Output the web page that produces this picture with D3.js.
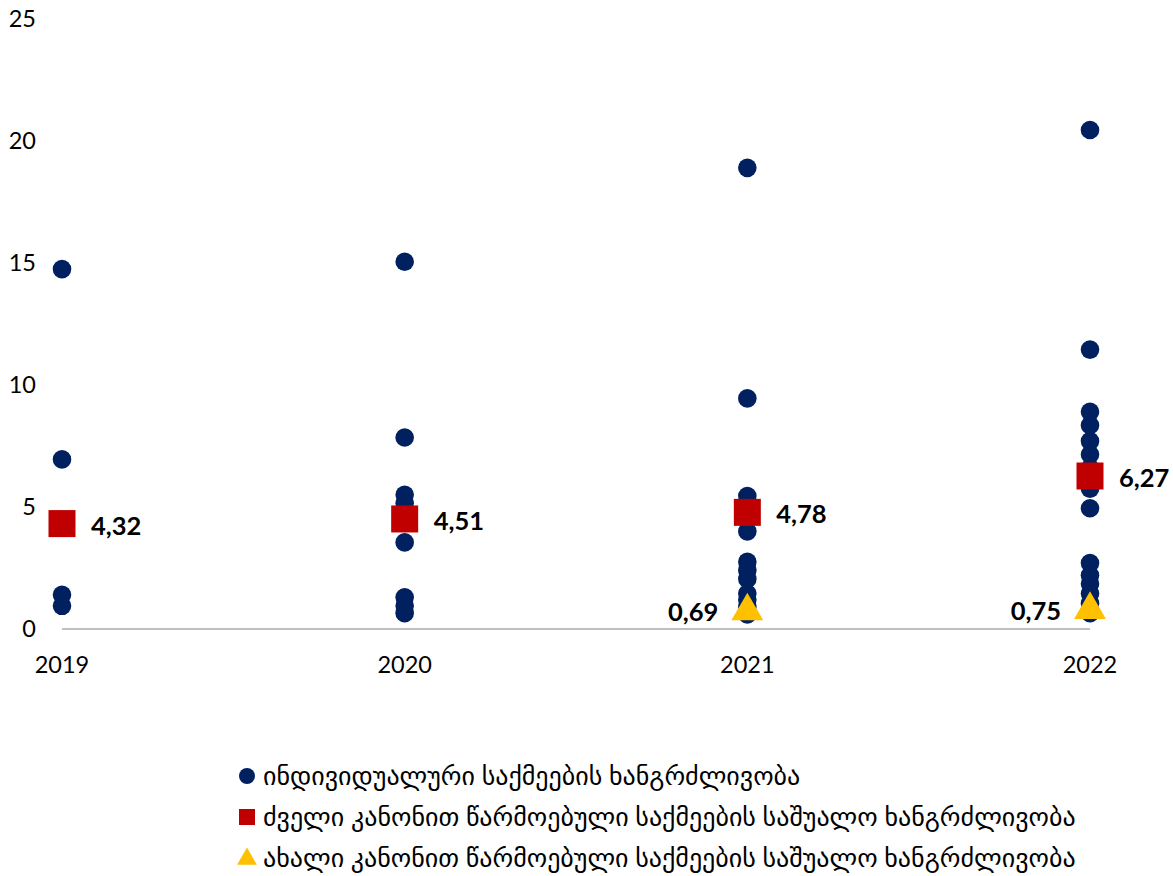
<!DOCTYPE html>
<html>
<head>
    <meta charset="utf-8">
    <script src="https://d3js.org/d3.v7.min.js"></script>
    <style>
        body { margin: 0; background: #fff; }
        text { font-family: Lato, "DejaVu Sans", sans-serif; }
    </style>
</head>
<body>
<svg id="chart" width="1173" height="876"></svg>
<script>
    // values
    const years = ["2019", "2020", "2021", "2022"];
    const individual2019 = [14.75, 6.95, 1.4, 0.95];
    const individual2020 = [15.05, 7.85, 5.5, 5.15, 3.55, 1.3, 0.95, 0.65];
    const individual2021 = [18.9, 9.45, 5.45, 5.2, 4.0, 2.75, 2.4, 2.05, 1.45, 1.2, 0.9, 0.6];
    const individual2022 = [20.45, 11.45, 8.9, 8.35, 7.7, 7.15, 6.6, 5.75, 4.95, 2.7, 2.2, 1.85, 1.45, 1.05, 0.65];
    const oldLawAvg = [4.32, 4.51, 4.78, 6.27];
    const newLawAvg = [null, null, 0.69, 0.75];
    const yTicks = [0, 5, 10, 15, 20, 25];
    const legendLabels = [
        "ინდივიდუალური საქმეების ხანგრძლივობა",
        "ძველი კანონით წარმოებული საქმეების საშუალო ხანგრძლივობა",
        "ახალი კანონით წარმოებული საქმეების საშუალო ხანგრძლივობა"
    ];

    const navy = "#002060", red = "#C00000", yellow = "#FFC000";

    const svg = d3.select("#chart");

    const x = d3.scalePoint().domain(years).range([62, 1090]).padding(0);
    const y = d3.scaleLinear().domain([0, 25]).range([629, 19]);

    // y tick labels (no axis line)
    svg.selectAll(".ytick")
        .data(yTicks)
        .join("text")
        .attr("x", 36)
        .attr("y", d => y(d))
        .attr("dy", "0.35em")
        .attr("text-anchor", "end")
        .attr("font-size", 23.5)
        .attr("fill", "#000")
        .text(d => d);

    // x axis line
    svg.append("line")
        .attr("x1", x(years[0])).attr("x2", x(years[3]))
        .attr("y1", y(0)).attr("y2", y(0))
        .attr("stroke", "#BFBFBF").attr("stroke-width", 2);

    svg.selectAll(".xtick")
        .data(years)
        .join("text")
        .attr("x", d => x(d))
        .attr("y", 665)
        .attr("dy", "0.35em")
        .attr("text-anchor", "middle")
        .attr("font-size", 23.5)
        .attr("fill", "#000")
        .text(d => d);

    // individual points
    const individual = [individual2019, individual2020, individual2021, individual2022];
    let pts = [];
    individual.forEach((vals, i) => vals.forEach(v => pts.push({ year: years[i], v: v })));

    svg.selectAll(".dot")
        .data(pts)
        .join("circle")
        .attr("cx", d => x(d.year))
        .attr("cy", d => y(d.v))
        .attr("r", 9.3)
        .attr("fill", navy);

    // old law averages
    const sq = 27;
    const oldPts = oldLawAvg.map((v, i) => ({ year: years[i], v: v }));
    svg.selectAll(".sq")
        .data(oldPts)
        .join("rect")
        .attr("x", d => x(d.year) - sq / 2)
        .attr("y", d => y(d.v) - sq / 2)
        .attr("width", sq).attr("height", sq)
        .attr("fill", red);

    const fmt = v => d3.format(".2f")(v).replace(".", ",");

    svg.selectAll(".sqlabel")
        .data(oldPts)
        .join("text")
        .attr("x", d => x(d.year) + 29)
        .attr("y", d => y(d.v) + 2)
        .attr("dy", "0.35em")
        .attr("font-size", 25.5)
        .attr("font-weight", "bold")
        .attr("fill", "#000")
        .text(d => fmt(d.v));

    // new law averages
    const newPts = newLawAvg.map((v, i) => ({ year: years[i], v: v })).filter(d => d.v !== null);
    const tri = d3.symbol().type(d3.symbolTriangle).size(440);
    svg.selectAll(".tri")
        .data(newPts)
        .join("path")
        .attr("d", tri)
        .attr("transform", d => `translate(${x(d.year)},${y(d.v) - 1})`)
        .attr("fill", yellow);

    svg.selectAll(".trilabel")
        .data(newPts)
        .join("text")
        .attr("x", d => x(d.year) - 29)
        .attr("y", d => y(d.v))
        .attr("dy", "0.35em")
        .attr("text-anchor", "end")
        .attr("font-size", 25.5)
        .attr("font-weight", "bold")
        .attr("fill", "#000")
        .text(d => fmt(d.v));

    // legend
    const legend = svg.append("g");
    const rowY = [776, 817, 858];
    legend.append("circle").attr("cx", 247).attr("cy", rowY[0]).attr("r", 8).attr("fill", navy);
    legend.append("rect").attr("x", 239).attr("y", rowY[1] - 8).attr("width", 16).attr("height", 16).attr("fill", red);
    legend.append("path")
        .attr("d", d3.symbol().type(d3.symbolTriangle).size(170))
        .attr("transform", `translate(247,${rowY[2] + 1})`)
        .attr("fill", yellow);

    legend.selectAll(".leg")
        .data(legendLabels)
        .join("text")
        .attr("x", 263)
        .attr("y", (d, i) => rowY[i])
        .attr("dy", "0.35em")
        .attr("font-size", 26)
        .attr("fill", "#000")
        .text(d => d);
</script>
</body>
</html>
